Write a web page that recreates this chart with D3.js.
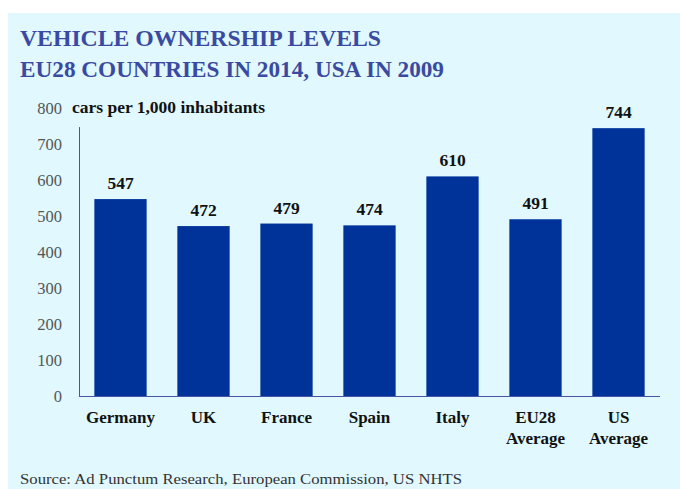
<!DOCTYPE html>
<html>
<head>
<meta charset="utf-8">
<script src="https://cdn.jsdelivr.net/npm/d3@7"></script>
<style>
  html, body { margin: 0; padding: 0; background: #ffffff; }
  svg { display: block; }
</style>
</head>
<body>
<script>
// Vehicle ownership, cars per 1,000 inhabitants
const categories = ["Germany", "UK", "France", "Spain", "Italy", "EU28\nAverage", "US\nAverage"];
const values = [547, 472, 479, 474, 610, 491, 744];
const yTicks = [0, 100, 200, 300, 400, 500, 600, 700, 800];

const W = 680, H = 489;
const serif = '"Liberation Serif"';

const svg = d3.select("body").append("svg")
  .attr("width", W).attr("height", H);

// panel background
svg.append("rect")
  .attr("x", 8).attr("y", 13)
  .attr("width", W - 8).attr("height", H - 13)
  .attr("fill", "#e0f8fe");

// title
const title = svg.append("text")
  .style("font-family", serif)
  .style("font-weight", "bold")
  .style("font-size", "23px")
  .attr("fill", "#3a4aa0");
title.append("tspan").attr("x", 20).attr("y", 46)
  .attr("textLength", 361).attr("lengthAdjust", "spacingAndGlyphs")
  .text("VEHICLE OWNERSHIP LEVELS");
title.append("tspan").attr("x", 20).attr("y", 77)
  .attr("textLength", 424).attr("lengthAdjust", "spacingAndGlyphs")
  .text("EU28 COUNTRIES IN 2014, USA IN 2009");

const x = d3.scaleBand()
  .domain(categories)
  .range([79, 660])
  .paddingInner(0.37)
  .paddingOuter(0.185);

const y = d3.scaleLinear()
  .domain([0, 800])
  .range([396, 108]);

// y tick labels
const yAxis = d3.axisLeft(y).tickValues(yTicks).tickSize(0).tickPadding(0);
const gy = svg.append("g")
  .attr("transform", "translate(62,0)")
  .call(yAxis)
  .attr("font-family", null);
gy.select(".domain").remove();
gy.selectAll("text")
  .style("font-family", serif)
  .style("font-size", "16.5px")
  .attr("fill", "#555555")
  .attr("dy", "0.35em");

// axis lines
svg.append("line")
  .attr("x1", 79.5).attr("x2", 79.5)
  .attr("y1", y(747)).attr("y2", y(0) + 0.5)
  .attr("stroke", "#4455aa").attr("stroke-width", 1);
svg.append("line")
  .attr("x1", 79).attr("x2", 660)
  .attr("y1", y(0) + 0.5).attr("y2", y(0) + 0.5)
  .attr("stroke", "#4455aa").attr("stroke-width", 1);

// unit label
svg.append("text")
  .attr("x", 72).attr("y", 113)
  .style("font-family", serif)
  .style("font-weight", "bold")
  .style("font-size", "16px")
  .attr("fill", "#111111")
  .attr("textLength", 193).attr("lengthAdjust", "spacingAndGlyphs")
  .text("cars per 1,000 inhabitants");

// bars
svg.append("g").selectAll("rect")
  .data(values)
  .join("rect")
  .attr("x", (d, i) => x(categories[i]))
  .attr("width", x.bandwidth())
  .attr("y", d => y(d))
  .attr("height", d => y(0) - y(d))
  .attr("fill", "#003399");

// value labels
svg.append("g").selectAll("text")
  .data(values)
  .join("text")
  .attr("x", (d, i) => x(categories[i]) + x.bandwidth() / 2)
  .attr("y", d => y(d) - 10)
  .attr("text-anchor", "middle")
  .style("font-family", serif)
  .style("font-weight", "bold")
  .style("font-size", "17.5px")
  .attr("fill", "#111111")
  .text(d => d);

// category labels
const xAxis = d3.axisBottom(x).tickSize(0).tickPadding(0);
const gx = svg.append("g")
  .attr("transform", `translate(0,${y(0)})`)
  .call(xAxis)
  .attr("font-family", null);
gx.select(".domain").remove();
gx.selectAll("text")
  .style("font-family", serif)
  .style("font-weight", "bold")
  .style("font-size", "17px")
  .attr("fill", "#111111")
  .attr("y", 0)
  .attr("dy", null)
  .each(function(d) {
    const t = d3.select(this);
    const lines = d.split("\n");
    t.text(null);
    lines.forEach((ln, k) => {
      t.append("tspan")
        .attr("x", 0)
        .attr("y", 27 + k * 21)
        .text(ln);
    });
  });

// source note
svg.append("text")
  .attr("x", 20).attr("y", 484)
  .style("font-family", serif)
  .style("font-size", "15.5px")
  .attr("fill", "#333333")
  .attr("textLength", 442).attr("lengthAdjust", "spacingAndGlyphs")
  .text("Source: Ad Punctum Research, European Commission, US NHTS");
</script>
</body>
</html>
